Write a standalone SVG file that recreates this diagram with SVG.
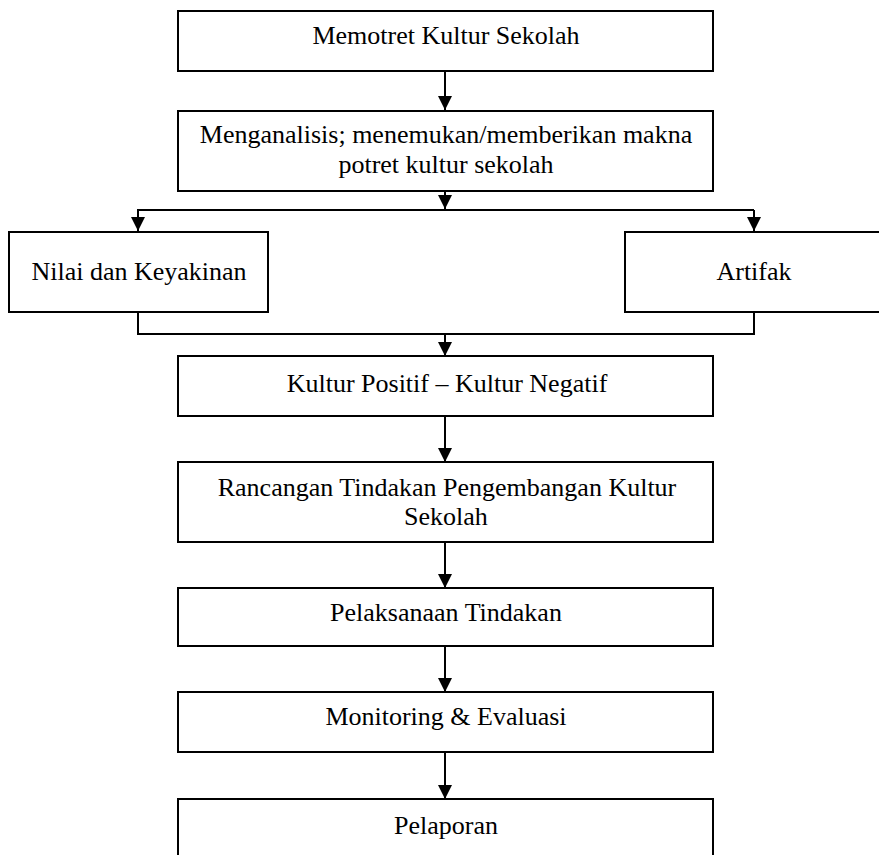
<svg xmlns="http://www.w3.org/2000/svg" width="879" height="855" viewBox="0 0 879 855">
<defs>
<style>
.box{fill:#fff;stroke:#000;stroke-width:2}
.t{font-family:"Liberation Serif","Times New Roman",serif;font-size:26px;fill:#000;text-anchor:middle}
.c{fill:none;stroke:#000;stroke-width:2}
</style>
<marker id="ah" viewBox="0 0 14 14" refX="14" refY="7" markerWidth="14" markerHeight="14" markerUnits="userSpaceOnUse" orient="auto">
<path d="M0,0 L14,7 L0,14 z" fill="#000"/>
</marker>
</defs>
<rect width="879" height="855" fill="#fff"/>
<g id="connectors">
<path class="c" d="M445,71 V110" marker-end="url(#ah)"/>
<path class="c" d="M445,191 V209"  marker-end="url(#ah)"/>
<path class="c" d="M137,210 H754"/>
<path class="c" d="M138,210 V231" marker-end="url(#ah)"/>
<path class="c" d="M754,210 V231" marker-end="url(#ah)"/>
<path class="c" d="M138,312 V334 H754 V312"/>
<path class="c" d="M445,334 V356" marker-end="url(#ah)"/>
<path class="c" d="M445,417 V462" marker-end="url(#ah)"/>
<path class="c" d="M445,542 V588" marker-end="url(#ah)"/>
<path class="c" d="M445,646 V692" marker-end="url(#ah)"/>
<path class="c" d="M445,753 V799" marker-end="url(#ah)"/>
</g>
<g id="n1"><rect class="box" x="178" y="11" width="535" height="60"/><text class="t" x="446" y="44">Memotret Kultur Sekolah</text></g>
<g id="n2"><rect class="box" x="178" y="111" width="535" height="80"/><text class="t" x="446" y="143">Menganalisis; menemukan/memberikan makna</text><text class="t" x="446" y="173">potret kultur sekolah</text></g>
<g id="n3"><rect class="box" x="9" y="232" width="259" height="80"/><text class="t" x="139" y="280">Nilai dan Keyakinan</text></g>
<g id="n4"><rect class="box" x="625" y="232" width="260" height="80"/><text class="t" x="754" y="280">Artifak</text></g>
<g id="n5"><rect class="box" x="178" y="356" width="535" height="60"/><text class="t" x="447" y="392">Kultur Positif – Kultur Negatif</text></g>
<g id="n6"><rect class="box" x="178" y="462" width="535" height="80"/><text class="t" x="447" y="496">Rancangan Tindakan Pengembangan Kultur</text><text class="t" x="446" y="525">Sekolah</text></g>
<g id="n7"><rect class="box" x="178" y="588" width="535" height="58"/><text class="t" x="446" y="621">Pelaksanaan Tindakan</text></g>
<g id="n8"><rect class="box" x="178" y="692" width="535" height="60"/><text class="t" x="446" y="725">Monitoring &amp; Evaluasi</text></g>
<g id="n9"><rect class="box" x="178" y="799" width="535" height="80"/><text class="t" x="446" y="834">Pelaporan</text></g>
</svg>
